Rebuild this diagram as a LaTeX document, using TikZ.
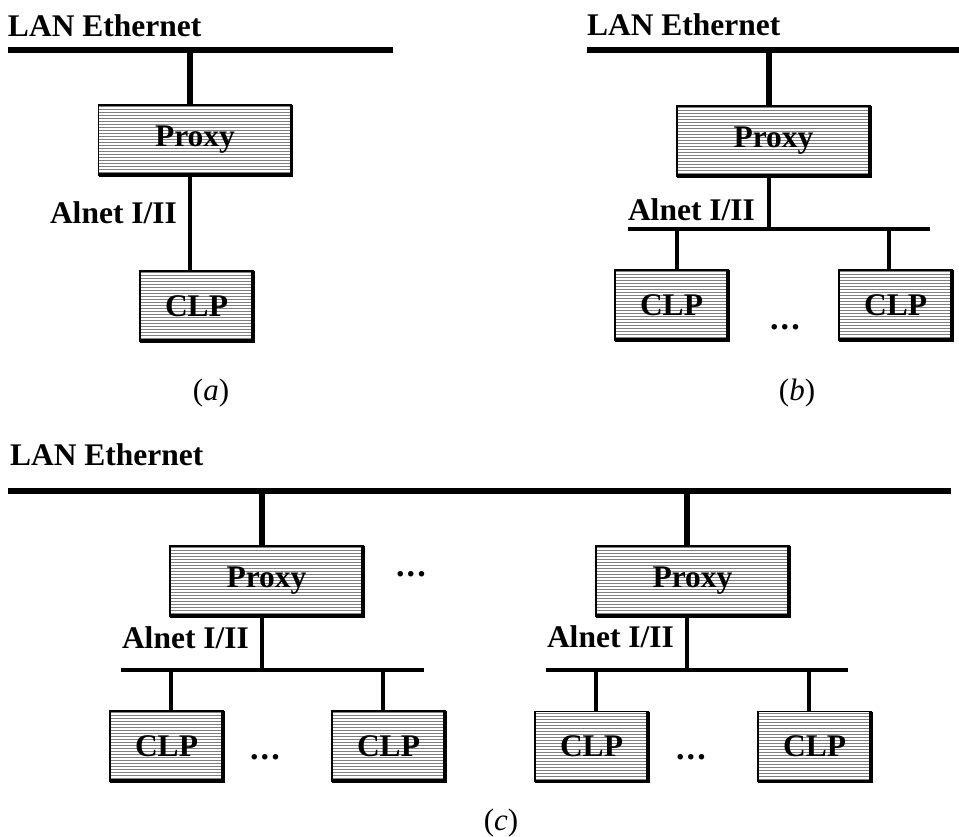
\documentclass[tikz,border=0pt]{standalone}
\usepackage{fontspec}
\setmainfont{Liberation Serif}
\begin{document}
\begin{tikzpicture}[x=1pt,y=-1pt,
  every node/.style={inner sep=0pt,outer sep=0pt},
  txt/.style={font=\fontsize{31.5}{36}\selectfont\bfseries},
  captxt/.style={font=\fontsize{31}{36}\selectfont},
  ellipsis/.style={font=\fontsize{34}{36}\selectfont\bfseries,anchor=base},
  hatch/.style={draw=black!50,line width=1pt},
  unit/.style={txt,draw,line width=1.6pt,minimum height=70pt,fill=white,
    path picture={\foreach \yy in {1.5,4.5,...,79.5}
      \draw[hatch] ([yshift=-\yy pt]path picture bounding box.north west) -- ++(300pt,0pt);}},
  proxybox/.style={unit,minimum width=193pt},
  clpbox/.style={unit,minimum width=113pt},
  rim/.style={line width=3.4pt},
  bus/.style={line width=5.5pt},
  link/.style={line width=3.5pt}]
\newcommand{\sparsedots}{.\kern2.2pt.\kern2.2pt.}
\useasboundingbox (0,0) rectangle (959,837);

% ---------------- (a) single proxy, single CLP ----------------
\node[txt,anchor=base west] (lanlblA) at (8,37) {LAN Ethernet};
\coordinate (lanA-w) at (8,50);
\coordinate (lanA-e) at (393,50);
\coordinate (tapA) at (190,50);
\node[proxybox] (pa) at (195,140) {Proxy};
\node[clpbox] (ca) at (196.5,306) {CLP};
\node[txt,anchor=base west] (alA) at (50,224) {Alnet I/II};
\node[captxt] (capA) at (211,393) {(\textit{a})};
\draw[bus] (lanA-w) -- (lanA-e);
\draw[bus] (tapA) -- (tapA |- pa.north);
\draw[link] (pa.south -| tapA) -- (ca.north -| tapA);

% ---------------- (b) single proxy, several CLPs ----------------
\node[txt,anchor=base west] (lanlblB) at (587,36) {LAN Ethernet};
\coordinate (lanB-w) at (587,50);
\coordinate (lanB-e) at (959,50);
\coordinate (tapB) at (769,50);
\node[proxybox] (pb) at (773.5,141) {Proxy};
\coordinate (alB-w) at (628,229);
\coordinate (alB-e) at (930,229);
\coordinate (dB1) at (677,229);
\coordinate (dB2) at (889,229);
\node[txt,anchor=base west] (alB) at (628,221) {Alnet I/II};
\node[clpbox] (cb1) at (671.5,305) {CLP};
\node[clpbox] (cb2) at (895.5,305) {CLP};
\node[ellipsis] (dotsB) at (785,330) {\sparsedots};
\node[captxt] (capB) at (797,393) {(\textit{b})};
\draw[bus] (lanB-w) -- (lanB-e);
\draw[bus] (tapB) -- (tapB |- pb.north);
\draw[link] (pb.south -| tapB) -- (alB-w -| tapB);
\draw[link] (alB-w) -- (alB-e);
\draw[link] (dB1) -- (dB1 |- cb1.north);
\draw[link] (dB2) -- (dB2 |- cb2.north);

% ---------------- (c) several proxies, several CLPs ----------------
\node[txt,anchor=base west] (lanlblC) at (10,465) {LAN Ethernet};
\coordinate (lanC-w) at (8,491);
\coordinate (lanC-e) at (951,491);
\coordinate (tapC1) at (262,491);
\coordinate (tapC2) at (687,491);
\node[proxybox] (pc1) at (266.5,581) {Proxy};
\node[proxybox] (pc2) at (692.5,581) {Proxy};
\node[ellipsis] (dotsC0) at (411,576) {\sparsedots};
% first segment
\coordinate (alC1-w) at (121,670);
\coordinate (alC1-e) at (424,670);
\coordinate (dC1) at (171,670);
\coordinate (dC2) at (383,670);
\node[txt,anchor=base west] (alC1) at (122,648) {Alnet I/II};
\node[clpbox] (cc1) at (166.5,746) {CLP};
\node[clpbox] (cc2) at (388.5,746) {CLP};
\node[ellipsis] (dotsC1) at (265,759.5) {\sparsedots};
% second segment
\coordinate (alC2-w) at (546,670);
\coordinate (alC2-e) at (848,670);
\coordinate (dC3) at (596,670);
\coordinate (dC4) at (809,670);
\node[txt,anchor=base west] (alC2) at (547,647) {Alnet I/II};
\node[clpbox] (cc3) at (591.5,746.5) {CLP};
\node[clpbox] (cc4) at (814.5,746.5) {CLP};
\node[ellipsis] (dotsC2) at (691,759.5) {\sparsedots};
\node[captxt] (capC) at (501,823) {(\textit{c})};
\draw[bus] (lanC-w) -- (lanC-e);
\draw[bus] (tapC1) -- (tapC1 |- pc1.north);
\draw[bus] (tapC2) -- (tapC2 |- pc2.north);
\draw[link] (pc1.south -| tapC1) -- (alC1-w -| tapC1);
\draw[link] (pc2.south -| tapC2) -- (alC2-w -| tapC2);
\draw[link] (alC1-w) -- (alC1-e);
\draw[link] (alC2-w) -- (alC2-e);
\draw[link] (dC1) -- (dC1 |- cc1.north);
\draw[link] (dC2) -- (dC2 |- cc2.north);
\draw[link] (dC3) -- (dC3 |- cc3.north);
\draw[link] (dC4) -- (dC4 |- cc4.north);

% heavier right and lower edges on every box
\foreach \n in {pa,ca,pb,cb1,cb2,pc1,pc2,cc1,cc2,cc3,cc4}
  \draw[rim] (\n.north east) -- (\n.south east) -- (\n.south west);
\end{tikzpicture}
\end{document}
